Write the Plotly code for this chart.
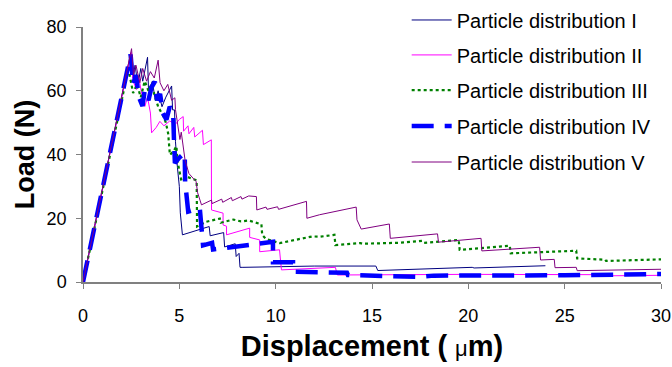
import plotly.graph_objects as go

# Load–displacement curves for five particle distributions
x_I = [0, 2.45, 2.6, 2.7, 2.85, 3.0, 3.1, 3.35, 3.4, 3.6, 3.75, 3.9, 4.1, 4.3, 4.6, 4.65,
       4.75, 4.8, 4.9, 5.0, 5.05, 5.16, 6.55, 6.6, 7.3, 7.35, 7.9, 7.95, 8.1, 8.15, 8.3,
       12.0, 15.2, 15.3, 20.2, 20.3, 24.0]
y_I = [0, 71, 64, 68, 62, 67, 63, 70.5, 60, 63, 57, 60, 55, 58, 61.5, 54,
       54, 44, 36, 30, 21.7, 14.8, 17.4, 14.5, 15.5, 11, 12, 8, 9, 4.6, 4.6,
       5.0, 5.0, 3.6, 4.6, 4.4, 5.1]

x_II = [0, 2.5, 2.6, 2.78, 2.9, 3.05, 3.21, 3.35, 3.5, 3.56, 3.8, 3.99, 4.2, 4.5, 4.8,
        5.0, 5.2, 5.22, 5.45, 5.5, 5.75, 5.8, 6.2, 6.25, 6.66, 6.67, 7.27, 7.27, 7.45,
        7.45, 8.65, 8.65, 9.17, 9.17, 10.2, 10.3, 13.1, 13.2, 20, 26.5, 26.55, 30]
y_II = [0, 72, 63, 60.4, 64, 59, 55.1, 58, 53, 46.8, 48.5, 50.4, 49, 50.5, 49.5,
        51, 51.9, 47.3, 49, 46.5, 48.5, 45.5, 47.6, 43.1, 44.6, 22.6, 21.6, 17.9, 17.5,
        14.8, 16.9, 14.0, 13.2, 9.5, 10.1, 3.8, 4.6, 2.2, 2.4, 2.3, 1.9, 2.1]

x_III = [0, 2.35, 2.45, 2.6, 2.8, 3.0, 3.2, 3.4, 3.55, 3.73, 3.9, 4.16, 4.3, 4.42, 4.51,
         4.7, 4.85, 4.9, 5.0, 5.11, 5.4, 5.6, 5.9, 5.92, 6.4, 7.1, 7.15, 7.8, 8.2, 8.6,
         9.26, 9.3, 9.5, 10.2, 11.9, 12.3, 13.05, 13.1, 14.4, 14.5, 16.3, 16.4, 17.6,
         17.7, 19.5, 19.55, 21.6, 22.15, 22.2, 25.6, 25.65, 27.1, 27.15, 30]
y_III = [0, 66.7, 64, 59.3, 62, 58, 63, 60, 62, 58.5, 55, 52.1, 50, 46.6, 39.9,
         41, 42.6, 38, 35, 31.6, 33, 32.5, 31.9, 17.4, 18.9, 19.9, 18.6, 19.6, 19.0, 19.3,
         18.1, 14.8, 13.5, 12.2, 14.3, 14.2, 14.8, 11.6, 12.2, 12.0, 12.5, 12.3, 12.9,
         12.3, 13.2, 10.1, 11.1, 11.4, 9.0, 9.8, 7.4, 7.0, 6.6, 7.1]

x_IV = [0, 2.47, 2.6, 2.75, 2.9, 3.09, 3.2, 3.4, 3.55, 3.73, 3.85, 4.0, 4.15, 4.33, 4.5,
        4.68, 4.72, 4.77, 5.0, 5.28, 5.3, 5.46, 6.06, 6.23, 6.23, 6.7, 6.75, 9.86, 9.86,
        10.9, 10.9, 13.7, 13.75, 17.5, 18.2, 25, 30]
y_IV = [0, 71.4, 62, 65, 58, 55.2, 60, 57, 61, 62.9, 57, 59, 53, 50.9, 55,
        53, 45, 37.3, 39, 40.5, 31.5, 22.1, 23.2, 14.5, 11.5, 12.3, 10.2, 12.6, 6.2,
        6.2, 3.2, 2.9, 2.2, 1.6, 2.0, 2.1, 2.5]

x_V = [0, 2.52, 2.62, 2.75, 2.95, 3.1, 3.3, 3.5, 3.7, 3.9, 4.0, 4.2, 4.4, 4.6, 4.77, 4.8,
       5.03, 5.1, 5.3, 5.5, 5.87, 5.95, 6.15, 6.67, 6.7, 7.2, 7.25, 7.7, 7.75, 8.2, 8.25,
       8.6, 9.0, 9.02, 9.5, 9.55, 10.1, 10.15, 11.6, 11.62, 12.28, 14.18, 14.22, 14.44,
       15.9, 15.95, 18.4, 18.45, 20.66, 20.7, 23.7, 23.75, 24.46, 24.5, 25.6, 25.65, 30]
y_V = [0, 73.2, 65, 68, 62.5, 67, 63, 66, 64, 69.6, 62.5, 60, 62, 57, 57.8, 54.1,
       44.7, 47, 38.1, 34, 31.5, 28, 24.2, 25.7, 24.6, 26, 25, 26.5, 25.5, 26.8, 26,
       27, 26.8, 22.6, 23.5, 22.8, 23.6, 22.8, 25.3, 20, 21.1, 23.5, 19.5, 16.6,
       18.2, 13.7, 15.1, 12.5, 13.7, 9.75, 10.9, 6.9, 7.1, 4.5, 4.6, 3.55, 4.0]

names = ["Particle distribution I", "Particle distribution II", "Particle distribution III",
         "Particle distribution IV", "Particle distribution V"]

FONT = "Liberation Sans, Arial, sans-serif"

series = [
    (x_I, y_I, dict(color="#000080", width=1)),
    (x_II, y_II, dict(color="#FF00FF", width=1)),
    (x_III, y_III, dict(color="#008000", width=2.2, dash="3px,3px")),
    (x_IV, y_IV, dict(color="#0000FF", width=4.5, dash="22px,11px")),
    (x_V, y_V, dict(color="#800080", width=1)),
]

# one single-entry legend per series, stacked down the right-hand side
legend_keys = ["legend", "legend2", "legend3", "legend4", "legend5"]
legend_tops = [1.104, 0.967, 0.829, 0.688, 0.547]

fig = go.Figure()
for i, (xs, ys, ln) in enumerate(series):
    fig.add_trace(go.Scatter(x=xs, y=ys, mode="lines", name=names[i], line=ln,
                             legend=legend_keys[i]))

axis_common = dict(
    showline=True, linecolor="#808080", linewidth=1.5,
    ticks="outside", ticklen=5, tickcolor="#808080", tickwidth=1.2,
    showgrid=False, zeroline=False,
    tickfont=dict(family=FONT, size=18, color="black"),
)

legends = {
    key: dict(x=0.560, y=top, xanchor="left", yanchor="top",
              bgcolor="rgba(0,0,0,0)", font=dict(family=FONT, size=20),
              itemwidth=40, maxheight=360)
    for key, top in zip(legend_keys, legend_tops)
}

fig.update_layout(
    width=672, height=367, autosize=False,
    margin=dict(l=83, r=11, t=27, b=85, autoexpand=False),
    paper_bgcolor="white", plot_bgcolor="white",
    font=dict(family=FONT, color="black"),
    xaxis=dict(range=[0, 30], tick0=0, dtick=5, ticklabelstandoff=12,
               title=dict(text="Displacement ( <span style='font-weight:normal;font-size:22px'>μ</span>m)",
                          font=dict(family=FONT, size=29, weight="bold"), standoff=10),
               **axis_common),
    yaxis=dict(range=[0, 80], tick0=0, dtick=20, ticklabelstandoff=6,
               title=dict(text="Load (N)", font=dict(family=FONT, size=27, weight="bold"), standoff=4),
               **axis_common),
    showlegend=True,
    **legends,
)

fig.write_html("out.html")
